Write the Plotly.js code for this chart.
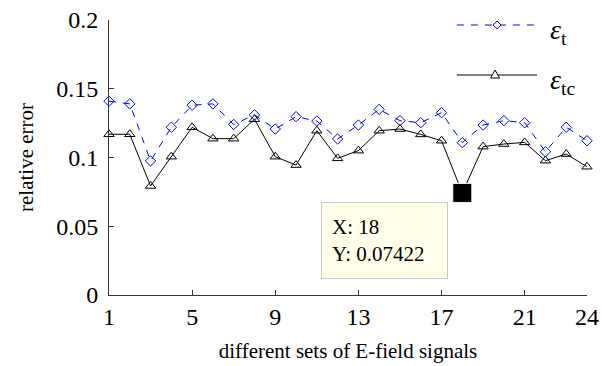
<!DOCTYPE html>
<html>
<head>
<meta charset="utf-8">
<script src="https://cdn.plot.ly/plotly-3.0.1.min.js"></script>
<style>html,body{margin:0;padding:0;background:#fff}#chart{width:602px;height:366px}</style>
</head>
<body>
<div id="chart"></div>
<script>
// Data
const sets = [1,2,3,4,5,6,7,8,9,10,11,12,13,14,15,16,17,18,19,20,21,22,23,24];
const epsT = [0.141,0.139,0.0975,0.122,0.138,0.139,0.124,0.131,0.1207,0.1297,0.1265,0.1135,
              0.1236,0.135,0.1268,0.1253,0.1326,0.1108,0.1236,0.1268,0.1253,0.1042,0.122,0.1122];
const epsTC = [0.1169,0.1169,0.0793,0.1006,0.122,0.1137,0.1137,0.1278,0.1006,0.0945,0.1195,0.0994,
               0.105,0.1195,0.1207,0.1168,0.1122,0.07422,0.1079,0.1098,0.111,0.0977,0.1025,0.0933];
const tipX = 18;
const tipY = 0.07422;
const xTickVals = [1,5,9,13,17,21,24];
const xTickText = ['1','5','9','13','17','21','24'];
const yTickVals = [0,0.05,0.1,0.15,0.2];
const yTickText = ['0','0.05','0.1','0.15','0.2'];

const FONT = 'Liberation Serif';

const traces = [
  {x: sets, y: epsT, type:'scatter', mode:'lines+markers', cliponaxis:false,
   line:{color:'#0000ff', width:1, dash:'7px,7px'},
   marker:{symbol:'diamond-open', size:8, color:'#0000ff', line:{width:1}}},
  {x: sets, y: epsTC, type:'scatter', mode:'lines+markers', cliponaxis:false,
   line:{color:'#000000', width:1},
   marker:{symbol:'triangle-up-open', size:9, color:'#000000', line:{width:1}}},
  {x:[tipX], y:[tipY], type:'scatter', mode:'markers', cliponaxis:false,
   marker:{symbol:'square', size:19, color:'#000000', line:{color:'#f4f4e0', width:1}}}
];

const layout = {
  width:602, height:366,
  margin:{l:108.5, r:15, t:20, b:71},
  paper_bgcolor:'#ffffff', plot_bgcolor:'#ffffff',
  showlegend:false,
  font:{family:FONT, color:'#000', size:24},
  xaxis:{range:[1,24], tickvals:xTickVals, ticktext:xTickText, ticks:'inside', ticklen:5, tickcolor:'#333',
         showline:true, linecolor:'#333', linewidth:1, showgrid:false, zeroline:false, automargin:false,
         tickfont:{size:24, family:FONT, color:'#000'}, ticklabelstandoff:0,
         title:{text:'different sets of E-field signals', font:{size:21, family:FONT, color:'#000'}, standoff:14}},
  yaxis:{range:[0,0.2], tickvals:yTickVals, ticktext:yTickText, ticks:'inside', ticklen:5, tickcolor:'#333',
         showline:true, linecolor:'#333', linewidth:1, showgrid:false, zeroline:false, automargin:false,
         tickfont:{size:24, family:FONT, color:'#000'}, ticklabelstandoff:5,
         title:{text:'relative error', font:{size:21, family:FONT, color:'#000'}, standoff:16}},
  shapes:[
    {type:'line', xref:'paper', yref:'paper', x0:0.7277, x1:0.8955, y0:0.9818, y1:0.9818,
     line:{color:'#0000ff', width:1, dash:'7px,7px'}},
    {type:'path', xref:'paper', yref:'paper', xsizemode:'pixel', ysizemode:'pixel',
     xanchor:0.812, yanchor:0.9818, path:'M -4 0 L 0 4 L 4 0 L 0 -4 Z',
     fillcolor:'#ffffff', line:{color:'#0000ff', width:1}},
    {type:'line', xref:'paper', yref:'paper', x0:0.7277, x1:0.8955, y0:0.8, y1:0.8,
     line:{color:'#000000', width:1}},
    {type:'path', xref:'paper', yref:'paper', xsizemode:'pixel', ysizemode:'pixel',
     xanchor:0.8077, yanchor:0.8, path:'M -4.5 -3 L 4.5 -3 L 0 5 Z',
     fillcolor:'#ffffff', line:{color:'#000000', width:1}}
  ],
  annotations:[
    {xref:'paper', yref:'paper', x:0.918, y:0.96, xanchor:'left', yanchor:'middle', showarrow:false,
     text:'<i>ε</i><sub>t</sub>', font:{size:28, family:FONT, color:'#000'}},
    {xref:'paper', yref:'paper', x:0.918, y:0.775, xanchor:'left', yanchor:'middle', showarrow:false,
     text:'<i>ε</i><sub>tc</sub>', font:{size:28, family:FONT, color:'#000'}},
    {xref:'x', yref:'y', x:tipX, y:tipY, xanchor:'right', yanchor:'top', showarrow:false,
     xshift:-14, yshift:-9, align:'left', valign:'middle',
     width:105, height:55, borderpad:10, borderwidth:1, bordercolor:'#c8c8c8', bgcolor:'#ffffea',
     text:'X: 18<br>Y: 0.07422', font:{size:21, family:FONT, color:'#000'}}
  ]
};

Plotly.newPlot('chart', traces, layout, {displayModeBar:false, staticPlot:true});
</script>
</body>
</html>
